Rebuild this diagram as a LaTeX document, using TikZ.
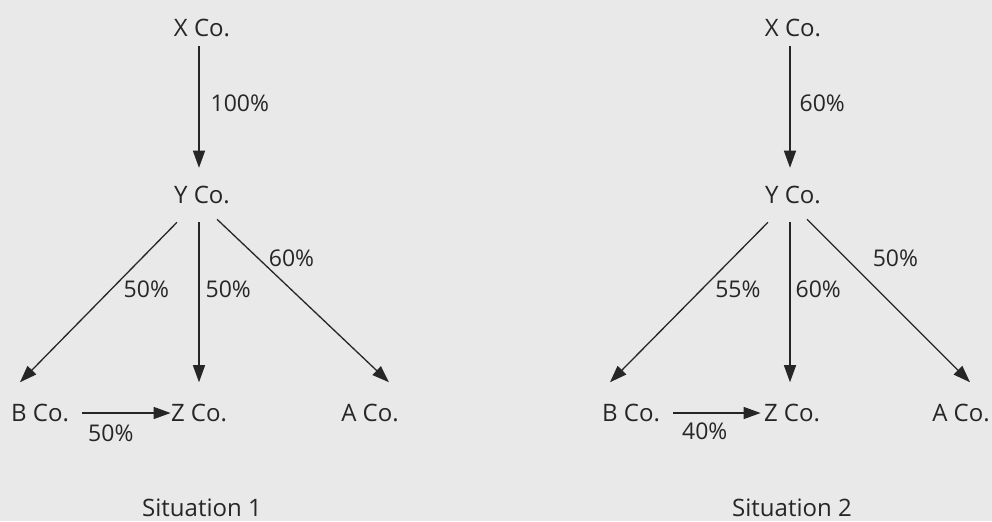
\documentclass[tikz,border=0pt]{standalone}
\usepackage{fontspec}
\setmainfont{Open Sans}
\usetikzlibrary{arrows.meta,positioning}
\definecolor{paper}{RGB}{233,233,233}
\definecolor{ink}{RGB}{38,38,38}
\tikzset{
  co/.style={inner sep=0pt, text=ink, font=\fontsize{12}{14}\selectfont},
  pct/.style={inner sep=0pt, text=ink, font=\fontsize{11.5}{14}\selectfont},
  caption/.style={inner sep=0pt, text=ink, font=\fontsize{12}{14}\selectfont},
  arrow/.style={-{Triangle[length=8.5pt,width=6pt]}, line width=0.65pt, draw=ink}
}

\begin{document}
\begin{tikzpicture}[x=0.5pt, y=-0.5pt]
\fill[paper] (0,0) rectangle (992,521);
% Situation 1
\node[co] (x1) at (202,28) {X Co.};
\node[co] (y1) at (202,195) {Y Co.};
\node[co] (b1) at (40,413) {B Co.};
\node[co] (z1) at (199,413) {Z Co.};
\node[co] (a1) at (370,413) {A Co.};
\node[caption] (s1) at (202,508) {Situation 1};
\draw[arrow] ([shift={(-3,9)}]x1.south) -- node[pct, pos=0.47, anchor=west, xshift=5.5pt]{100\%} ([shift={(-3,-18)}]y1.north);
\draw[arrow] ([shift={(-25,18)}]y1.south) -- node[pct, pos=0.42, anchor=west, xshift=6pt]{50\%} ([shift={(-20,-21.5)}]b1.north);
\draw[arrow] ([shift={(-3,18)}]y1.south) -- node[pct, pos=0.42, anchor=west, xshift=3pt]{50\%} ([shift={(0,-21.5)}]z1.north);
\draw[arrow] ([shift={(15,15)}]y1.south) -- node[pct, pos=0.24, anchor=west, xshift=5pt]{60\%} ([shift={(19,-21.5)}]a1.north);
\draw[arrow, shorten <=6.5pt] (b1.east) -- node[pct, pos=0.41, below=5.75pt]{50\%} (z1.west);
% Situation 2
\node[co] (x2) at (793,28) {X Co.};
\node[co] (y2) at (793,195) {Y Co.};
\node[co] (b2) at (631,413) {B Co.};
\node[co] (z2) at (792,413) {Z Co.};
\node[co] (a2) at (961,413) {A Co.};
\node[caption] (s2) at (792,508) {Situation 2};
\draw[arrow] ([shift={(-3,9)}]x2.south) -- node[pct, pos=0.47, anchor=west, xshift=4.5pt]{60\%} ([shift={(-3,-18)}]y2.north);
\draw[arrow] ([shift={(-25,18)}]y2.south) -- node[pct, pos=0.42, anchor=west, xshift=6.5pt]{55\%} ([shift={(-21,-21.5)}]b2.north);
\draw[arrow] ([shift={(-3,18)}]y2.south) -- node[pct, pos=0.42, anchor=west, xshift=2.5pt]{60\%} ([shift={(-2,-21.5)}]z2.north);
\draw[arrow] ([shift={(14,15)}]y2.south) -- node[pct, pos=0.24, anchor=west, xshift=13pt]{50\%} ([shift={(9,-21.5)}]a2.north);
\draw[arrow, shorten <=6.5pt, shorten >=1.5pt] (b2.east) -- node[pct, pos=0.43, below=4.5pt]{40\%} (z2.west);
\end{tikzpicture}
\end{document}
